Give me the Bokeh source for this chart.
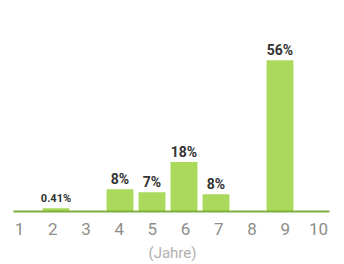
from bokeh.plotting import figure
from bokeh.models import ColumnDataSource, LinearAxis, Range1d, FixedTicker
from bokeh.core.properties import value
from bokeh.embed import file_html
from bokeh.resources import INLINE

# data
years = [1, 2, 3, 4, 5, 6, 7, 8, 9, 10]
bar_years = [2, 4, 5, 6, 7, 9]
bar_heights = [1.2, 8.2, 7.1, 18.3, 6.4, 56.0]
bar_labels = ["0.41%", "8%", "7%", "18%", "8%", "56%"]
label_sizes = ["11px", "14px", "14px", "14px", "14px", "14px"]
axis_title = "(Jahre)"

src = ColumnDataSource(dict(x=bar_years, top=bar_heights, lab=bar_labels, fs=label_sizes))

p = figure(width=344, height=264, output_backend="svg", toolbar_location=None,
           x_range=Range1d(0.2656, 11.0156), y_range=Range1d(0, 78.09),
           x_axis_type=None, y_axis_type=None,
           min_border_left=0, min_border_right=0, min_border_top=0, min_border_bottom=0)
p.outline_line_color = None
p.background_fill_color = "white"
p.border_fill_color = "white"

p.vbar(x="x", top="top", width=0.84, bottom=0, source=src,
       fill_color="#aad95b", line_color=None)

p.text(x="x", y="top", text="lab", source=src, text_align="center",
       text_baseline="alphabetic", y_offset=-10,
       text_font=value("Roboto"), text_font_style="bold",
       text_font_size="fs", text_color="#333333")

p.extra_x_ranges = {"lab": Range1d(0.428, 10.7833)}
ax = LinearAxis(x_range_name="lab", ticker=FixedTicker(ticks=years))
ax.bounds = (0.8193, 10.332)
ax.axis_line_color = "#7dae3c"
ax.axis_line_width = 2
ax.major_tick_line_color = None
ax.minor_tick_line_color = None
ax.major_tick_out = 0
ax.major_tick_in = 0
ax.major_label_standoff = 11
ax.major_label_text_font = "Roboto"
ax.major_label_text_font_size = "17px"
ax.major_label_text_color = "#8e8e88"
ax.axis_label = axis_title
ax.axis_label_standoff = 6
ax.axis_label_text_font = "Roboto"
ax.axis_label_text_font_size = "15px"
ax.axis_label_text_font_style = "normal"
ax.axis_label_text_color = "#b0b0b0"
p.add_layout(ax, "below")

open("out.html", "w").write(file_html(p, INLINE))
